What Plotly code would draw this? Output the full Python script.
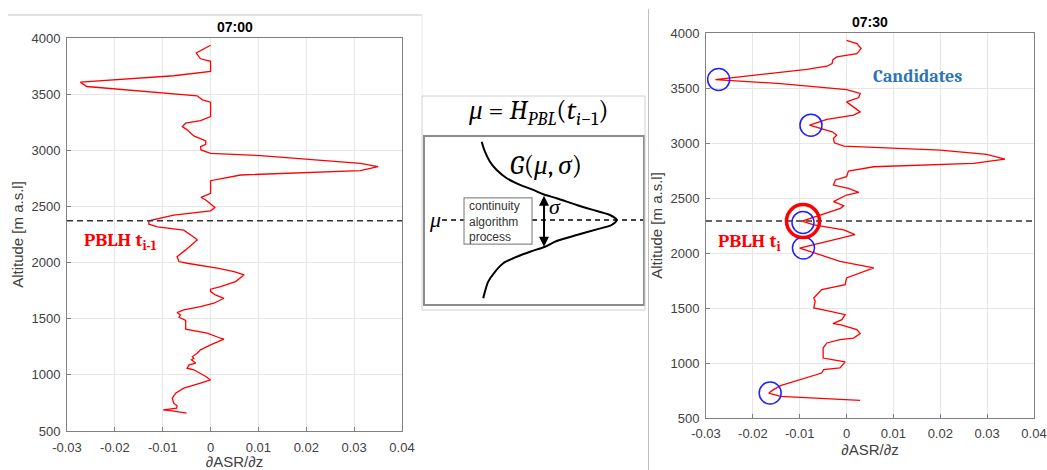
import plotly.graph_objects as go

W, H = 1047, 470

# ---- 07:00 profile: gradient of attenuated scattering ratio vs altitude ----
left_grad = [0, -0.003, -0.0021, 0, 0, -0.0077, -0.0272, -0.0259, -0.0028, -0.0017,
             0, 0, -0.0021, -0.0052, -0.0059, -0.0049, -0.0035, -0.0017, -0.001, -0.001,
             -0.0021, -0.002, 0, 0.0104, 0.0313, 0.035, 0.0313, 0.0063, 0.0007, 0,
             0, -0.002, -0.001, 0.0009, 0, -0.0077, -0.0129, -0.0129, -0.0111, -0.0056,
             -0.0031, -0.0028, -0.0052, -0.007, -0.0066, -0.0049, 0.0014, 0.0049, 0.007, 0.0052,
             0.0021, 0, 0, 0.001, 0.0028, 0.0007, -0.0021, -0.0056, -0.007, -0.0063,
             -0.0066, -0.0059, -0.0052, -0.0052, -0.0007, 0.0021, 0.0028, 0, -0.0021, -0.0028,
             -0.0038, -0.0035, -0.004, -0.0031, -0.0045, -0.0049, -0.0035, -0.001, 0, -0.0021,
             -0.0056, -0.0073, -0.008, -0.0077, -0.007, -0.0071, -0.0099, -0.008, -0.005]
left_alt = [3935, 3866, 3815, 3792, 3702, 3664, 3607, 3568, 3485, 3449,
            3429, 3301, 3265, 3241, 3211, 3182, 3128, 3098, 3083, 3054,
            3033, 3003, 2973, 2952, 2884, 2854, 2818, 2780, 2735, 2729,
            2616, 2580, 2557, 2491, 2461, 2423, 2372, 2342, 2318, 2289,
            2214, 2202, 2113, 2053, 2009, 1994, 1950, 1920, 1890, 1831,
            1786, 1763, 1742, 1712, 1682, 1638, 1608, 1579, 1555, 1534,
            1513, 1496, 1484, 1407, 1371, 1326, 1318, 1267, 1223, 1193,
            1163, 1148, 1134, 1104, 1089, 1059, 1045, 985, 955, 926,
            881, 837, 792, 748, 724, 703, 688, 680, 659]
pblh_prev = 2372

# ---- 07:30 profile ----
right_grad = [0, 0.0022, 0.0031, 0.0022, -0.0021, -0.0029, -0.0031, -0.0042, -0.0085, -0.028,
              -0.0141, 0, 0.0029, 0.0026, 0, 0.0015, 0.0029, 0.0015, -0.0042, -0.0079,
              -0.0053, -0.0031, -0.0021, -0.0028, -0.0026, -0.0006, 0.02, 0.0299, 0.0338, 0.0271,
              0.0058, 0.0004, 0, -0.0024, -0.0028, 0.0004, 0.0026, 0, -0.0028, -0.0006,
              -0.0013, -0.0056, -0.0095, -0.007, -0.0006, 0.0018, -0.01, -0.0014, 0.0058, 0,
              -0.0003, -0.0053, -0.007, -0.0067, -0.007, -0.0042, -0.0003, -0.001, -0.0029, -0.0014,
              0.0022, 0.0029, 0.0015, -0.0014, -0.0042, -0.005, -0.005, -0.0031, -0.001, -0.0003,
              -0.0014, -0.0049, -0.0053, -0.0099, -0.0141, -0.0156, -0.0166, -0.0141, 0.0029]
right_alt = [3933, 3903, 3858, 3813, 3782, 3758, 3722, 3698, 3670, 3577,
             3540, 3486, 3450, 3413, 3374, 3329, 3283, 3253, 3214, 3162,
             3132, 3102, 3072, 3041, 3002, 2972, 2936, 2896, 2854, 2815,
             2784, 2745, 2694, 2664, 2618, 2588, 2552, 2527, 2467, 2431,
             2406, 2346, 2290, 2255, 2210, 2167, 2045, 1924, 1864, 1773,
             1712, 1667, 1591, 1561, 1500, 1476, 1439, 1394, 1358, 1348,
             1303, 1267, 1227, 1212, 1182, 1136, 1045, 1030, 1015, 1010,
             955, 939, 909, 848, 794, 758, 727, 697, 661]
pblh_now = 2290

# candidate local minima of the 07:30 profile
cand_grad = [-0.0273, -0.0076, -0.0093, -0.0092, -0.0163]
cand_alt = [3577, 3162, 2278, 2045, 727]
chosen_grad = [-0.0093]
chosen_alt = [2290]

x_ticks = [-0.03, -0.02, -0.01, 0, 0.01, 0.02, 0.03, 0.04]
x_ticklabels = ["-0.03", "-0.02", "-0.01", "0", "0.01", "0.02", "0.03", "0.04"]
y_ticks = [500, 1000, 1500, 2000, 2500, 3000, 3500, 4000]
y_ticklabels = [str(v) for v in y_ticks]

# ---- schematic of the continuity constraint (unit box 0..100) ----
gauss_u = [26.0, 27.5, 29.8, 32.9, 37.5, 43.6, 49.7, 54.3, 60.4, 69.6, 78.8, 84.9, 87.9,
           85.6, 78.8, 69.6, 60.4, 55.0, 48.2, 40.5, 35.9, 32.1, 29.0, 27.5, 26.7]
gauss_v = [97.2, 91.2, 85.2, 80.2, 75.3, 71.3, 68.3, 65.7, 63.3, 59.3, 55.7, 53.3, 50.3,
           47.3, 44.7, 41.3, 37.7, 34.3, 31.3, 27.4, 24.4, 19.3, 13.4, 7.4, 3.4]
mu_level = 50.3
sigma_top, sigma_bottom = 65.7, 34.3
sigma_u = 54.6


def pxx(p):
    return p / W


def pxy(p):
    return 1 - p / H


RED = "#ff0000"
BLUE = "#1f1fff"
AX = "#808080"
TXT = "#404040"
SANS = "Arial, Liberation Sans, sans-serif"
SERIF = "Cambria, Liberation Serif, serif"

fig = go.Figure()

# left profile
fig.add_trace(go.Scatter(x=left_grad, y=left_alt, mode="lines",
                         line=dict(color=RED, width=1.3), xaxis="x", yaxis="y"))
fig.add_trace(go.Scatter(x=[x_ticks[0], x_ticks[-1]], y=[pblh_prev, pblh_prev], mode="lines",
                         line=dict(color="#333333", width=1.5, dash="6px,4px"),
                         xaxis="x", yaxis="y"))

# right profile
fig.add_trace(go.Scatter(x=[x_ticks[0], x_ticks[-1]], y=[pblh_now, pblh_now], mode="lines",
                         line=dict(color="#333333", width=1.5, dash="6px,4px"),
                         xaxis="x2", yaxis="y2"))
fig.add_trace(go.Scatter(x=right_grad, y=right_alt, mode="lines",
                         line=dict(color=RED, width=1.3), xaxis="x2", yaxis="y2"))
fig.add_trace(go.Scatter(x=cand_grad, y=cand_alt, mode="markers",
                         marker=dict(symbol="circle-open", size=22, color=BLUE,
                                     line=dict(color=BLUE, width=1.5)),
                         xaxis="x2", yaxis="y2"))
fig.add_trace(go.Scatter(x=chosen_grad, y=chosen_alt, mode="markers",
                         marker=dict(symbol="circle-open", size=33, color=RED,
                                     line=dict(color=RED, width=3.5)),
                         xaxis="x2", yaxis="y2"))

# schematic: mu level (dashed) and Gaussian weighting curve
fig.add_trace(go.Scatter(x=[7.8, 100], y=[mu_level, mu_level], mode="lines",
                         line=dict(color="black", width=1.5, dash="5px,4px"),
                         xaxis="x3", yaxis="y3"))
fig.add_trace(go.Scatter(x=gauss_u, y=gauss_v, mode="lines",
                         line=dict(color="black", width=2, shape="spline", smoothing=0.8),
                         xaxis="x3", yaxis="y3"))

axis_common = dict(
    showgrid=True, gridcolor="#e6e6e6", gridwidth=1, zeroline=False,
    showline=True, mirror=True, linecolor=AX, linewidth=1,
    ticks="inside", ticklen=4, tickcolor=AX, automargin=False,
    tickfont=dict(family=SANS, size=13, color=TXT),
)
plain_axis = dict(showgrid=False, zeroline=False, showticklabels=False, ticks="",
                  showline=True, mirror=True, linecolor="#8c8c8c", linewidth=1.5,
                  automargin=False, range=[0, 100])
title_font = dict(family=SANS, size=15, color=TXT)

fig.update_layout(
    width=W, height=H, margin=dict(l=0, r=0, t=0, b=0, pad=0, autoexpand=False),
    paper_bgcolor="white", plot_bgcolor="white", showlegend=False,
    xaxis=dict(axis_common, domain=[pxx(67), pxx(402)], range=[-0.03, 0.04],
               tickvals=x_ticks, ticktext=x_ticklabels, anchor="y", ticklabelstandoff=4,
               title=dict(text="∂ASR/∂z", font=title_font, standoff=5)),
    yaxis=dict(axis_common, domain=[pxy(431), pxy(38)], range=[500, 4000],
               tickvals=y_ticks, ticktext=y_ticklabels, anchor="x", ticklabelstandoff=3,
               title=dict(text="Altitude [m a.s.l]", font=title_font, standoff=4)),
    xaxis2=dict(axis_common, domain=[pxx(706), pxx(1034)], range=[-0.03, 0.04],
                tickvals=x_ticks, ticktext=x_ticklabels, anchor="y2", ticklabelstandoff=3,
                title=dict(text="∂ASR/∂z", font=title_font, standoff=3)),
    yaxis2=dict(axis_common, domain=[pxy(418), pxy(33)], range=[500, 4000],
                tickvals=y_ticks, ticktext=y_ticklabels, anchor="x2", ticklabelstandoff=3,
                title=dict(text="Altitude [m a.s.l]", font=title_font, standoff=4)),
    xaxis3=dict(plain_axis, domain=[pxx(425), pxx(643)], anchor="y3"),
    yaxis3=dict(plain_axis, domain=[pxy(304), pxy(137)], anchor="x3"),
)

FRAME = "#d0d0d0"
shapes = [
    # panel frames
    dict(type="line", xref="paper", yref="paper", x0=pxx(8), x1=pxx(422), y0=pxy(15), y1=pxy(15),
         line=dict(color="#c4c4c4", width=1)),
    dict(type="line", xref="paper", yref="paper", x0=pxx(422), x1=pxx(422), y0=pxy(15), y1=pxy(96),
         line=dict(color="#ececec", width=1)),
    dict(type="rect", xref="paper", yref="paper", x0=pxx(422), x1=pxx(645), y0=pxy(310), y1=pxy(96),
         line=dict(color=FRAME, width=1)),
    dict(type="line", xref="paper", yref="paper", x0=pxx(648.5), x1=pxx(648.5), y0=pxy(9), y1=pxy(470),
         line=dict(color="#bdbdbd", width=1)),
    # process box covering the mu line
    dict(type="rect", xref="x3", yref="y3", x0=17.9, x1=49.1, y0=35.9, y1=63.5,
         fillcolor="white", line=dict(color="#8c8c8c", width=1.2), layer="above"),
]
fig.update_layout(shapes=shapes)


def paper_note(text, x, y, font, xanchor="center"):
    return dict(text=text, x=pxx(x), y=pxy(y), xref="paper", yref="paper",
                xanchor=xanchor, yanchor="middle", showarrow=False, font=font)


def box_note(text, u, v, font, xanchor="center", align="center"):
    return dict(text=text, x=u, y=v, xref="x3", yref="y3", xanchor=xanchor,
                yanchor="middle", align=align, showarrow=False, font=font)


annotations = [
    paper_note("<b>07:00</b>", 234.5, 27, dict(family=SANS, size=14, color="black")),
    paper_note("<b>07:30</b>", 870, 22, dict(family=SANS, size=14, color="black")),
    paper_note("<b>PBLH t<sub>i-1</sub></b>", 82, 241, dict(family=SERIF, size=19, color=RED), "left"),
    paper_note("<b>PBLH t<sub>i</sub></b>", 716, 242, dict(family=SERIF, size=19, color=RED), "left"),
    paper_note("<b>Candidates</b>", 871, 77, dict(family=SERIF, size=18, color="#2e75b6"), "left"),
    paper_note("<i>μ</i> = <i>H</i><sub><i>PBL</i></sub>(<i>t</i><sub><i>i</i>−1</sub>)",
               538, 112, dict(family=SERIF, size=27, color="black")),
    box_note("<i>G</i>(<i>μ</i>, <i>σ</i>)", 55.5, 83.2, dict(family=SERIF, size=27, color="black")),
    box_note("<i>σ</i>", 59.8, 57.8, dict(family=SERIF, size=22, color="black")),
    box_note("<i>μ</i>", 4.6, mu_level, dict(family=SERIF, size=22, color="black")),
    box_note("continuity<br>algorithm<br>process", 19.3, 49.7,
             dict(family=SANS, size=12, color="#333333"), xanchor="left", align="left"),
    dict(text="", x=sigma_u, y=sigma_bottom, ax=sigma_u, ay=sigma_top,
         xref="x3", yref="y3", axref="x3", ayref="y3", showarrow=True,
         arrowhead=2, arrowside="end+start", arrowsize=1, arrowwidth=2, arrowcolor="black"),
]
fig.update_layout(annotations=annotations)

fig.write_html("out.html")
